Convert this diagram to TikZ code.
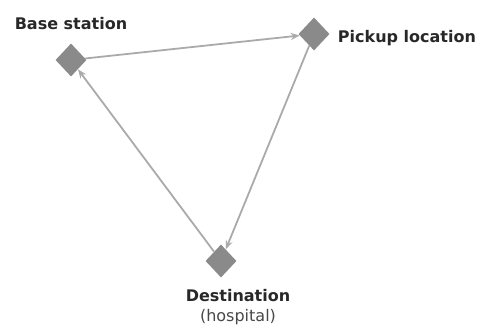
\documentclass[tikz,border=0pt]{standalone}
\usepackage{fontspec}
\setmainfont{DejaVu Sans}
\usepackage{tikz}
\usetikzlibrary{arrows.meta,positioning,shapes.geometric}
\definecolor{sitefill}{RGB}{138,138,138}
\definecolor{routeline}{RGB}{170,170,170}
\definecolor{labeltext}{RGB}{40,40,40}

\begin{document}
\begin{tikzpicture}[
  x=1pt, y=1pt,
  site/.style={diamond, fill=sitefill, inner sep=0pt,
    minimum width=31pt, minimum height=33pt},
  lbl/.style={font=\bfseries\fontsize{16}{18}\selectfont, text=labeltext,
    inner sep=0pt, align=center},
  route/.style={-{Stealth[length=9pt,width=7pt]}, line width=1.8pt, routeline}
]
\useasboundingbox (0,0) rectangle (486,329);
\node[site] (base) at (71,269) {};
\node[site] (pickup) at (314,295) {};
\node[site] (dest) at (221,68) {};
\node[lbl, above=13pt of base] (baselbl) {Base station};
\node[lbl, right=8pt of pickup, yshift=-4pt] (pickuplbl) {Pickup location};
\node[lbl, below=11pt of dest, xshift=17pt] (destlbl)
  {Destination\\[2pt]{\mdseries\color{labeltext!85} (hospital)}};
\draw[route] (base) -- (pickup);
\draw[route] (pickup) -- (dest);
\draw[route] (dest) -- (base);
\end{tikzpicture}
\end{document}
